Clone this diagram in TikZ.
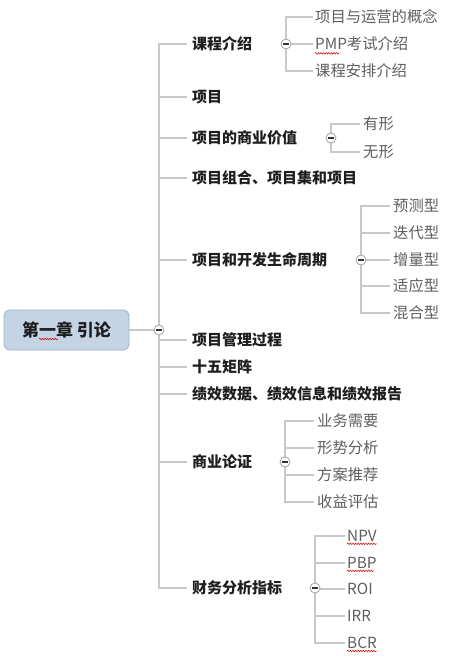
\documentclass[tikz,border=0pt]{standalone}
\usepackage{fontspec}
\setmainfont{Noto Sans CJK SC}
\usetikzlibrary{backgrounds,decorations.pathmorphing}
\definecolor{rootfill}{RGB}{197,212,228}
\definecolor{rootline}{RGB}{160,178,198}
\definecolor{linegray}{RGB}{200,200,200}
\definecolor{txtdark}{RGB}{30,30,30}
\definecolor{txtgray}{RGB}{95,95,95}
\begin{document}
\begin{tikzpicture}[x=1pt,y=-1pt,
  rootbox/.style={draw=rootline, fill=rootfill, rounded corners=6pt, line width=0.8pt,
     minimum width=125pt, minimum height=40pt, inner sep=0pt,
     font=\bfseries\fontsize{17}{17}\selectfont, text=txtdark},
  lone/.style={anchor=west, inner sep=0pt, font=\bfseries\fontsize{15}{15}\selectfont, text=txtdark},
  ltwo/.style={anchor=west, inner sep=0pt, font=\fontsize{15.3}{15.3}\selectfont, text=txtgray},
  conn/.style={draw=linegray, line width=1.1pt},
  trunk/.style={draw=linegray, line width=1.8pt},
  coll/.style={circle, draw=black!40, fill=white, minimum size=10pt, inner sep=0pt, line width=0.7pt,
     path picture={\draw[black!80, line width=1.3pt] ([xshift=-2.6pt]path picture bounding box.center) -- ([xshift=2.6pt]path picture bounding box.center);}},
  spell/.style={draw=red!85!black, line width=0.5pt, decorate, decoration={snake, amplitude=0.8pt, segment length=2.6pt}}
]
\useasboundingbox (0,0) rectangle (471,658);

% root
\node[rootbox] (root) at (66.5,330) {第一章 引论};
\node[coll] (mc) at (159,330) {};

% level 1
\node[lone] (a1) at (192,44) {课程介绍};
\node[lone] (a2) at (192,97) {项目};
\node[lone] (a3) at (192,138) {项目的商业价值};
\node[lone] (a4) at (192,178) {项目组合、项目集和项目};
\node[lone] (a5) at (192,260) {项目和开发生命周期};
\node[lone] (a6) at (192,340) {项目管理过程};
\node[lone] (a7) at (192,367) {十五矩阵};
\node[lone] (a8) at (192,394) {绩效数据、绩效信息和绩效报告};
\node[lone] (a9) at (192,462) {商业论证};
\node[lone] (a10) at (192,588) {财务分析指标};

% collapse circles
\node[coll] (c1) at (286,44) {};
\node[coll] (c3) at (331,138) {};
\node[coll] (c5) at (361,260) {};
\node[coll] (c9) at (285,462) {};
\node[coll] (c10) at (315,588) {};

% level 2
\node[ltwo] (b11) at (315,17) {项目与运营的概念};
\node[ltwo] (b12) at (315,44) {PMP考试介绍};
\node[ltwo] (b13) at (315,71) {课程安排介绍};

\node[ltwo] (b31) at (363,124) {有形};
\node[ltwo] (b32) at (363,152) {无形};

\node[ltwo] (b51) at (393,206) {预测型};
\node[ltwo] (b52) at (393,233) {迭代型};
\node[ltwo] (b53) at (393,260) {增量型};
\node[ltwo] (b54) at (393,286) {适应型};
\node[ltwo] (b55) at (393,313) {混合型};

\node[ltwo] (b91) at (317,421) {业务需要};
\node[ltwo] (b92) at (317,448) {形势分析};
\node[ltwo] (b93) at (317,475) {方案推荐};
\node[ltwo] (b94) at (317,502) {收益评估};

\node[ltwo] (b101) at (347,536) {NPV};
\node[ltwo] (b102) at (347,563) {PBP};
\node[ltwo] (b103) at (347,589) {ROI};
\node[ltwo] (b104) at (347,616) {IRR};
\node[ltwo] (b105) at (347,643) {BCR};

\begin{scope}[on background layer]
  \fill[white] (0,0) rectangle (471,658);
  \draw[conn] (root.east) -- (mc);
  \draw[trunk] (mc) |- ([xshift=-5pt]a1.west);
  \draw[trunk] (mc) |- ([xshift=-5pt]a10.west);
  \foreach \n in {a2,a3,a4,a5,a6,a7,a8,a9}
    \draw[conn] (mc) |- ([xshift=-5pt]\n.west);
  \foreach \n in {b11,b12,b13}
    \draw[conn] (c1) |- ([xshift=-2pt]\n.west);
  \foreach \n in {b31,b32}
    \draw[conn] (c3) |- ([xshift=-3pt]\n.west);
  \foreach \n in {b51,b52,b53,b54,b55}
    \draw[conn] (c5) |- ([xshift=-3pt]\n.west);
  \foreach \n in {b91,b92,b93,b94}
    \draw[conn] (c9) |- ([xshift=-3pt]\n.west);
  \foreach \n in {b101,b102,b103,b104,b105}
    \draw[conn] (c10) |- ([xshift=-2pt]\n.west);
\end{scope}

% spell-check marks
\draw[spell] (39,339) -- (58,339);
\draw[spell] (b12.south west) ++(0,2) -- ++(24,0);
\draw[spell] (b101.south west) ++(0,2) -- ++(30,0);
\draw[spell] (b102.south west) ++(0,2) -- ++(27,0);
\draw[spell] (b105.south west) ++(0,2) -- ++(30,0);
\end{tikzpicture}
\end{document}
